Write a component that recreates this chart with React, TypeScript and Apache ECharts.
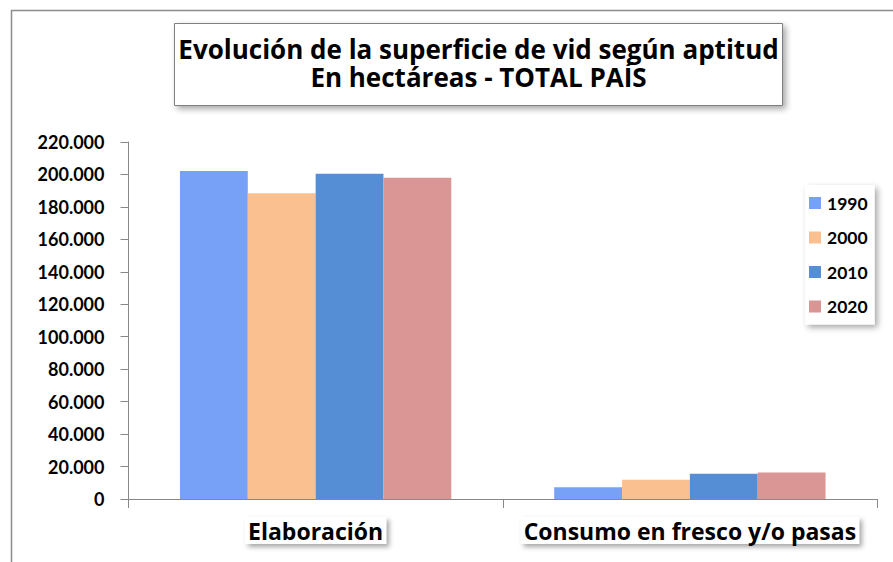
import React, { useEffect, useRef } from "react";
import * as echarts from "echarts";

const categories = ["Elaboración", "Consumo en fresco y/o pasas"];
const years = ["1990", "2000", "2010", "2020"];
const values1990 = [202100, 7200];
const values2000 = [188400, 11900];
const values2010 = [200500, 15600];
const values2020 = [198000, 16400];
const yTicks = { min: 0, max: 220000, interval: 20000 };
const titleLines = ["Evolución de la superficie de vid según aptitud", "En hectáreas - TOTAL PAÍS"];

const colors = ["#77A1F7", "#FAC090", "#558ED5", "#D99694"];
const FONT = "Lato, 'Open Sans', sans-serif";
const WIDE = "'Open Sans', Lato, sans-serif";

const fmt = (v: number) => String(v).replace(/\B(?=(\d{3})+(?!\d))/g, ".");

export default function App() {
  const ref = useRef<HTMLDivElement>(null);
  useEffect(() => {
    if (!ref.current) return;
    const chart = echarts.init(ref.current, null, { renderer: "svg" });
    const seriesData = [values1990, values2000, values2010, values2020];
    chart.setOption({
      animation: false,
      backgroundColor: "#fff",
      textStyle: { fontFamily: FONT },
      grid: { left: 128.5, right: 16, top: 142, bottom: 63, containLabel: false },
      legend: {
        orient: "vertical",
        left: 805,
        top: 185,
        width: 70,
        padding: [9, 7, 9, 4],
        itemGap: 16.5,
        itemWidth: 12,
        itemHeight: 12,
        icon: "rect",
        backgroundColor: "#fff",
        shadowBlur: 6,
        shadowOffsetX: 3,
        shadowOffsetY: 3,
        shadowColor: "rgba(0,0,0,0.35)",
        textStyle: { fontFamily: FONT, fontSize: 17.5, fontWeight: "bold", color: "#000", padding: [0, 0, 0, 1] },
        data: years,
      },
      xAxis: {
        type: "category",
        data: categories,
        axisLine: { show: true, lineStyle: { color: "#888", width: 1 } },
        axisTick: { show: true, length: 9, lineStyle: { color: "#888" } },
        axisLabel: {
          interval: 0,
          margin: 18,
          fontFamily: WIDE,
          fontSize: 23,
          fontWeight: "bold",
          color: "#000",
          backgroundColor: "#fff",
          padding: [2, 3, 2, 3],
          shadowBlur: 5,
          shadowOffsetX: 3,
          shadowOffsetY: 3,
          shadowColor: "rgba(0,0,0,0.35)",
        },
        splitLine: { show: false },
      },
      yAxis: {
        type: "value",
        min: yTicks.min,
        max: yTicks.max,
        interval: yTicks.interval,
        axisLine: { show: true, lineStyle: { color: "#888", width: 1 } },
        axisTick: { show: true, length: 8, lineStyle: { color: "#888" } },
        axisLabel: {
          margin: 24,
          fontFamily: FONT,
          fontSize: 18,
          fontWeight: "bold",
          color: "#000",
          formatter: (v: number) => fmt(v),
        },
        splitLine: { show: false },
      },
      series: years.map((y, i) => ({
        name: y,
        type: "bar",
        data: seriesData[i],
        barGap: "0%",
        barCategoryGap: "27.5%",
        itemStyle: { color: colors[i] },
      })),
      graphic: [
        {
          type: "rect",
          shape: { x: 11.5, y: 10.5, width: 1000, height: 700 },
          style: { fill: "none", stroke: "#8c8c8c", lineWidth: 1.5 },
          silent: true,
          z: 0,
        },
        {
          type: "rect",
          shape: { x: 174.5, y: 23.5, width: 608, height: 82 },
          style: {
            fill: "#fff",
            stroke: "#7f7f7f",
            lineWidth: 1,
            shadowBlur: 6,
            shadowOffsetX: 3,
            shadowOffsetY: 3,
            shadowColor: "rgba(0,0,0,0.35)",
          },
          z: 10,
        },
        {
          type: "text",
          x: 478.5,
          y: 63,
          z: 11,
          style: {
            text: titleLines.join("\n"),
            fontFamily: WIDE,
            fontSize: 26,
            lineHeight: 28,
            fontWeight: "bold",
            fill: "#000",
            align: "center",
            verticalAlign: "middle",
          },
        },
      ],
    });
    return () => chart.dispose();
  }, []);
  return (
    <div
      ref={ref}
      style={{ position: "fixed", left: 0, top: 0, width: 893, height: 562, background: "#fff" }}
    />
  );
}
